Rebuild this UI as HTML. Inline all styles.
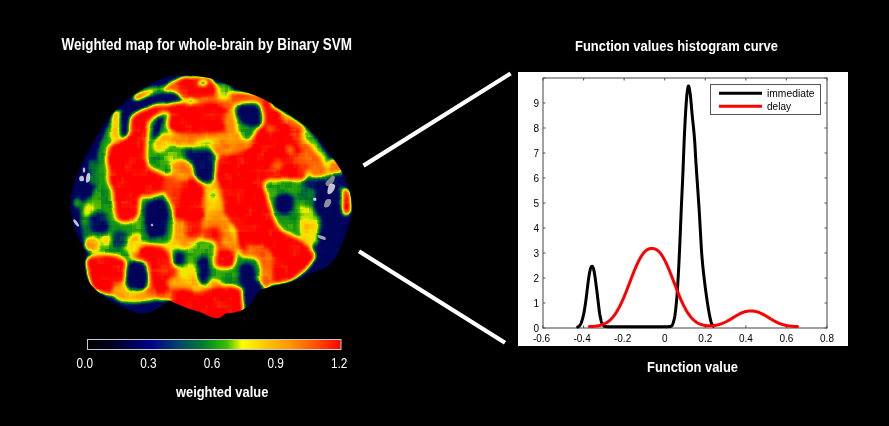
<!DOCTYPE html>
<html><head><meta charset="utf-8"><title>Weighted map and function values histogram</title>
<style>html,body{margin:0;padding:0;background:#000;width:889px;height:426px;overflow:hidden}svg{display:block}</style>
</head><body>
<svg width="889" height="426" viewBox="0 0 889 426">
<rect width="889" height="426" fill="#000"/>
<defs><linearGradient id="cbg" x1="0" y1="0" x2="1" y2="0"><stop offset="0" stop-color="rgb(0, 0, 0)"/><stop offset="0.1" stop-color="rgb(0, 0, 32)"/><stop offset="0.25" stop-color="rgb(0, 0, 140)"/><stop offset="0.37" stop-color="rgb(0, 75, 100)"/><stop offset="0.45" stop-color="rgb(0, 120, 50)"/><stop offset="0.5" stop-color="rgb(20, 160, 20)"/><stop offset="0.55" stop-color="rgb(60, 190, 0)"/><stop offset="0.61" stop-color="rgb(255, 255, 0)"/><stop offset="0.7" stop-color="rgb(255, 200, 0)"/><stop offset="0.8" stop-color="rgb(255, 150, 0)"/><stop offset="0.9" stop-color="rgb(255, 80, 0)"/><stop offset="1.0" stop-color="rgb(255, 0, 0)"/></linearGradient></defs>
<g font-family="Liberation Sans, Arial, sans-serif" font-weight="bold" fill="#fff">
<text x="61.5" y="49.8" font-size="16" textLength="290.5" lengthAdjust="spacingAndGlyphs">Weighted map for whole-brain by Binary SVM</text>
<text x="575" y="50.8" font-size="14.5" textLength="203" lengthAdjust="spacingAndGlyphs">Function values histogram curve</text>
<text x="647" y="372.4" font-size="15.5" textLength="91" lengthAdjust="spacingAndGlyphs">Function value</text>
<text x="176" y="397.4" font-size="15" textLength="92.3" lengthAdjust="spacingAndGlyphs">weighted value</text>
</g>
<defs>
<clipPath id="bc"><path d="M182.0,75.0 C188.6,74.6 194.0,75.6 200.0,76.5 C206.0,77.4 211.8,78.4 218.0,80.5 C224.2,82.6 229.8,86.1 237.0,89.0 C244.2,91.9 253.5,94.5 261.0,98.0 C268.5,101.5 275.3,105.9 282.0,110.0 C288.7,114.1 295.3,118.2 301.0,122.5 C306.7,126.8 311.5,131.2 316.0,136.0 C320.5,140.8 324.2,146.3 328.0,151.5 C331.8,156.7 336.0,162.2 339.0,167.0 C342.0,171.8 344.2,175.8 346.0,180.0 C347.8,184.2 349.0,187.7 350.0,192.0 C351.0,196.3 351.8,201.7 352.0,206.0 C352.2,210.3 351.8,213.7 351.0,218.0 C350.2,222.3 348.3,228.2 347.0,232.0 C345.7,235.8 344.4,237.7 343.0,241.0 C341.6,244.3 340.3,248.5 338.5,252.0 C336.7,255.5 334.4,259.2 332.0,262.0 C329.6,264.8 327.2,266.8 324.0,268.5 C320.8,270.2 316.7,270.9 313.0,272.5 C309.3,274.1 306.5,276.2 302.0,278.0 C297.5,279.8 291.7,281.9 286.0,283.5 C280.3,285.1 272.7,286.1 268.0,287.5 C263.3,288.9 260.7,289.6 258.0,292.0 C255.3,294.4 254.3,299.2 252.0,302.0 C249.7,304.8 246.8,307.3 244.0,309.0 C241.2,310.7 238.0,311.6 235.0,312.4 C232.0,313.1 228.7,312.6 226.0,313.5 C223.3,314.4 221.5,317.4 219.0,318.0 C216.5,318.6 214.0,317.9 211.0,317.0 C208.0,316.1 204.5,313.8 201.0,312.5 C197.5,311.2 194.2,310.5 190.0,309.0 C185.8,307.5 179.5,304.9 176.0,303.5 C172.5,302.1 171.2,300.2 169.0,300.5 C166.8,300.8 165.5,303.3 163.0,305.0 C160.5,306.7 157.0,309.2 154.0,310.6 C151.0,312.0 148.0,313.0 145.0,313.3 C142.0,313.6 140.5,313.8 136.0,312.4 C131.5,311.0 123.2,307.7 118.0,305.2 C112.8,302.7 108.7,300.0 105.0,297.5 C101.3,295.0 98.8,292.9 96.0,290.0 C93.2,287.1 89.9,284.0 88.0,280.0 C86.1,276.0 84.9,270.2 84.5,266.0 C84.1,261.8 85.6,257.8 85.5,255.0 C85.4,252.2 85.1,252.0 84.0,249.5 C82.9,247.0 80.8,244.1 79.0,240.0 C77.2,235.9 74.9,230.7 73.5,225.0 C72.1,219.3 70.8,212.2 70.6,206.0 C70.4,199.8 71.5,192.9 72.5,188.0 C73.5,183.1 74.6,180.9 76.3,176.4 C78.0,171.9 81.0,165.1 82.9,161.0 C84.8,156.9 85.2,156.2 87.6,152.0 C89.9,147.8 93.9,141.0 97.0,136.0 C100.1,131.0 103.2,126.0 106.0,122.0 C108.8,118.0 111.5,114.7 114.0,112.0 C116.5,109.3 117.8,108.5 121.0,105.7 C124.2,102.9 128.9,98.0 133.0,95.0 C137.1,92.0 140.8,90.1 145.4,87.4 C150.0,84.7 154.5,81.1 160.6,79.0 C166.7,76.9 175.4,75.4 182.0,75.0Z"/></clipPath>
<filter id="cm" x="0" y="0" width="889" height="426" filterUnits="userSpaceOnUse" color-interpolation-filters="sRGB">
<feGaussianBlur in="SourceGraphic" stdDeviation="2.2" result="b"/>
<feTurbulence type="fractalNoise" baseFrequency="0.09" numOctaves="2" seed="7" result="n"/>
<feColorMatrix in="n" type="matrix" values="1 0 0 0 0 1 0 0 0 0 1 0 0 0 0 0 0 0 0 1" result="ng0"/>
<feFlood x="2" y="2" width="1" height="1" flood-color="#fff" result="dot"/>
<feComposite in="dot" width="4" height="4" result="cell"/>
<feTile in="cell" result="grid"/>
<feComposite in="ng0" in2="grid" operator="in" result="sparse"/>
<feMorphology in="sparse" operator="dilate" radius="2" result="ng"/>
<feComposite in="b" in2="ng" operator="arithmetic" k1="0" k2="1" k3="0.2" k4="-0.1"/>
<feComponentTransfer><feFuncR type="table" tableValues="0.000 0.000 0.000 0.000 0.000 0.000 0.000 0.000 0.000 0.000 0.000 0.000 0.000 0.000 0.000 0.000 0.001 0.001 0.002 0.002 0.003 0.003 0.004 0.004 0.005 0.005 0.006 0.006 0.007 0.007 0.008 0.007 0.006 0.004 0.003 0.002 0.001 0.000 0.000 0.000 0.000 0.000 0.000 0.000 0.011 0.022 0.034 0.045 0.056 0.067 0.078 0.124 0.170 0.216 0.261 0.307 0.353 0.444 0.536 0.627 0.719 0.810 0.902 0.918 0.935 0.951 0.967 0.984 1.000 1.000 1.000 1.000 1.000 1.000 1.000 1.000 1.000 1.000 1.000 1.000 1.000 1.000 1.000 1.000 1.000 1.000 1.000 1.000 1.000 1.000 1.000 1.000 1.000 1.000 1.000 1.000 1.000 1.000 1.000 1.000 1.000"/><feFuncG type="table" tableValues="0.000 0.000 0.000 0.000 0.000 0.000 0.000 0.000 0.000 0.000 0.000 0.000 0.000 0.000 0.000 0.000 0.002 0.003 0.005 0.006 0.008 0.009 0.011 0.013 0.014 0.016 0.017 0.019 0.020 0.022 0.024 0.048 0.073 0.097 0.122 0.147 0.171 0.196 0.232 0.268 0.304 0.340 0.376 0.412 0.437 0.462 0.487 0.513 0.538 0.563 0.588 0.614 0.641 0.667 0.693 0.719 0.745 0.778 0.810 0.843 0.876 0.908 0.941 0.925 0.908 0.892 0.876 0.859 0.843 0.819 0.794 0.770 0.745 0.721 0.696 0.672 0.647 0.623 0.598 0.574 0.549 0.522 0.494 0.467 0.439 0.412 0.384 0.357 0.329 0.302 0.275 0.247 0.220 0.192 0.165 0.137 0.110 0.082 0.055 0.027 0.000"/><feFuncB type="table" tableValues="0.000 0.020 0.039 0.059 0.078 0.098 0.118 0.137 0.157 0.180 0.204 0.227 0.251 0.275 0.298 0.322 0.325 0.328 0.332 0.335 0.339 0.342 0.345 0.349 0.352 0.356 0.359 0.362 0.366 0.369 0.373 0.373 0.373 0.373 0.373 0.373 0.373 0.373 0.346 0.320 0.294 0.268 0.242 0.216 0.196 0.176 0.157 0.137 0.118 0.098 0.078 0.065 0.052 0.039 0.026 0.013 0.000 0.000 0.000 0.000 0.000 0.000 0.000 0.000 0.000 0.000 0.000 0.000 0.000 0.000 0.000 0.000 0.000 0.000 0.000 0.000 0.000 0.000 0.000 0.000 0.000 0.000 0.000 0.000 0.000 0.000 0.000 0.000 0.000 0.000 0.000 0.000 0.000 0.000 0.000 0.000 0.000 0.000 0.000 0.000 0.000"/></feComponentTransfer>
</filter>
</defs>
<g clip-path="url(#bc)"><g filter="url(#cm)">
<rect x="50" y="60" width="320" height="270" fill="#000"/>
<path d="M182.0,75.0 C188.6,74.6 194.0,75.6 200.0,76.5 C206.0,77.4 211.8,78.4 218.0,80.5 C224.2,82.6 229.8,86.1 237.0,89.0 C244.2,91.9 253.5,94.5 261.0,98.0 C268.5,101.5 275.3,105.9 282.0,110.0 C288.7,114.1 295.3,118.2 301.0,122.5 C306.7,126.8 311.5,131.2 316.0,136.0 C320.5,140.8 324.2,146.3 328.0,151.5 C331.8,156.7 336.0,162.2 339.0,167.0 C342.0,171.8 344.2,175.8 346.0,180.0 C347.8,184.2 349.0,187.7 350.0,192.0 C351.0,196.3 351.8,201.7 352.0,206.0 C352.2,210.3 351.8,213.7 351.0,218.0 C350.2,222.3 348.3,228.2 347.0,232.0 C345.7,235.8 344.4,237.7 343.0,241.0 C341.6,244.3 340.3,248.5 338.5,252.0 C336.7,255.5 334.4,259.2 332.0,262.0 C329.6,264.8 327.2,266.8 324.0,268.5 C320.8,270.2 316.7,270.9 313.0,272.5 C309.3,274.1 306.5,276.2 302.0,278.0 C297.5,279.8 291.7,281.9 286.0,283.5 C280.3,285.1 272.7,286.1 268.0,287.5 C263.3,288.9 260.7,289.6 258.0,292.0 C255.3,294.4 254.3,299.2 252.0,302.0 C249.7,304.8 246.8,307.3 244.0,309.0 C241.2,310.7 238.0,311.6 235.0,312.4 C232.0,313.1 228.7,312.6 226.0,313.5 C223.3,314.4 221.5,317.4 219.0,318.0 C216.5,318.6 214.0,317.9 211.0,317.0 C208.0,316.1 204.5,313.8 201.0,312.5 C197.5,311.2 194.2,310.5 190.0,309.0 C185.8,307.5 179.5,304.9 176.0,303.5 C172.5,302.1 171.2,300.2 169.0,300.5 C166.8,300.8 165.5,303.3 163.0,305.0 C160.5,306.7 157.0,309.2 154.0,310.6 C151.0,312.0 148.0,313.0 145.0,313.3 C142.0,313.6 140.5,313.8 136.0,312.4 C131.5,311.0 123.2,307.7 118.0,305.2 C112.8,302.7 108.7,300.0 105.0,297.5 C101.3,295.0 98.8,292.9 96.0,290.0 C93.2,287.1 89.9,284.0 88.0,280.0 C86.1,276.0 84.9,270.2 84.5,266.0 C84.1,261.8 85.6,257.8 85.5,255.0 C85.4,252.2 85.1,252.0 84.0,249.5 C82.9,247.0 80.8,244.1 79.0,240.0 C77.2,235.9 74.9,230.7 73.5,225.0 C72.1,219.3 70.8,212.2 70.6,206.0 C70.4,199.8 71.5,192.9 72.5,188.0 C73.5,183.1 74.6,180.9 76.3,176.4 C78.0,171.9 81.0,165.1 82.9,161.0 C84.8,156.9 85.2,156.2 87.6,152.0 C89.9,147.8 93.9,141.0 97.0,136.0 C100.1,131.0 103.2,126.0 106.0,122.0 C108.8,118.0 111.5,114.7 114.0,112.0 C116.5,109.3 117.8,108.5 121.0,105.7 C124.2,102.9 128.9,98.0 133.0,95.0 C137.1,92.0 140.8,90.1 145.4,87.4 C150.0,84.7 154.5,81.1 160.6,79.0 C166.7,76.9 175.4,75.4 182.0,75.0Z" fill="rgb(64,64,64)"/>
<path d="M160.0,87.0 C165.7,85.3 173.3,83.2 180.0,82.0 C186.7,80.8 193.7,79.7 200.0,80.0 C206.3,80.3 211.8,82.0 218.0,84.0 C224.2,86.0 230.0,89.2 237.0,92.0 C244.0,94.8 252.7,97.5 260.0,101.0 C267.3,104.5 274.5,109.0 281.0,113.0 C287.5,117.0 293.7,120.7 299.0,125.0 C304.3,129.3 308.8,134.3 313.0,139.0 C317.2,143.7 320.7,148.3 324.0,153.0 C327.3,157.7 331.0,162.8 333.0,167.0 C335.0,171.2 336.5,174.2 336.0,178.0 C335.5,181.8 331.7,185.5 330.0,190.0 C328.3,194.5 327.3,200.0 326.0,205.0 C324.7,210.0 323.3,215.0 322.0,220.0 C320.7,225.0 319.7,229.7 318.0,235.0 C316.3,240.3 314.7,246.5 312.0,252.0 C309.3,257.5 306.0,263.5 302.0,268.0 C298.0,272.5 293.7,276.3 288.0,279.0 C282.3,281.7 274.0,283.2 268.0,284.0 C262.0,284.8 255.7,282.0 252.0,284.0 C248.3,286.0 248.7,292.0 246.0,296.0 C243.3,300.0 240.3,305.3 236.0,308.0 C231.7,310.7 226.0,312.3 220.0,312.0 C214.0,311.7 207.0,308.3 200.0,306.0 C193.0,303.7 184.7,299.5 178.0,298.0 C171.3,296.5 164.7,297.7 160.0,297.0 C155.3,296.3 156.7,294.2 150.0,294.0 C143.3,293.8 127.7,296.7 120.0,296.0 C112.3,295.3 108.5,292.7 104.0,290.0 C99.5,287.3 95.3,284.2 93.0,280.0 C90.7,275.8 90.5,269.3 90.0,265.0 C89.5,260.7 90.7,257.5 90.0,254.0 C89.3,250.5 87.3,248.0 86.0,244.0 C84.7,240.0 83.0,235.3 82.0,230.0 C81.0,224.7 79.3,217.0 80.0,212.0 C80.7,207.0 83.5,203.7 86.0,200.0 C88.5,196.3 93.2,195.0 95.0,190.0 C96.8,185.0 96.5,176.7 97.0,170.0 C97.5,163.3 96.8,156.0 98.0,150.0 C99.2,144.0 101.7,139.0 104.0,134.0 C106.3,129.0 109.0,124.0 112.0,120.0 C115.0,116.0 118.3,113.3 122.0,110.0 C125.7,106.7 130.0,103.0 134.0,100.0 C138.0,97.0 141.7,94.2 146.0,92.0 C150.3,89.8 154.3,88.7 160.0,87.0Z" fill="rgb(128,128,128)"/>
<path d="M97.0,172.0 C97.0,174.7 96.6,178.0 96.0,180.2 C95.5,182.4 94.5,184.5 93.5,185.3 C92.6,186.2 91.4,186.2 90.5,185.3 C89.5,184.5 88.5,182.4 88.0,180.2 C87.4,178.0 87.0,174.7 87.0,172.0 C87.0,169.3 87.4,166.0 88.0,163.8 C88.5,161.6 89.5,159.5 90.5,158.7 C91.4,157.8 92.6,157.8 93.5,158.7 C94.5,159.5 95.5,161.6 96.0,163.8 C96.6,166.0 97.0,169.3 97.0,172.0Z" fill="rgb(107,107,107)"/>
<path d="M91.0,232.0 C91.0,233.6 90.6,235.4 90.0,236.7 C89.5,238.0 88.5,239.1 87.5,239.6 C86.6,240.1 85.4,240.1 84.5,239.6 C83.5,239.1 82.5,238.0 82.0,236.7 C81.4,235.4 81.0,233.6 81.0,232.0 C81.0,230.4 81.4,228.6 82.0,227.3 C82.5,226.0 83.5,224.9 84.5,224.4 C85.4,223.9 86.6,223.9 87.5,224.4 C88.5,224.9 89.5,226.0 90.0,227.3 C90.6,228.6 91.0,230.4 91.0,232.0Z" fill="rgb(115,115,115)"/>
<path d="M82.0,203.0 C82.0,204.0 81.6,205.1 81.0,205.9 C80.5,206.7 79.5,207.5 78.5,207.8 C77.6,208.1 76.4,208.1 75.5,207.8 C74.5,207.5 73.5,206.7 73.0,205.9 C72.4,205.1 72.0,204.0 72.0,203.0 C72.0,202.0 72.4,200.9 73.0,200.1 C73.5,199.3 74.5,198.5 75.5,198.2 C76.4,197.9 77.6,197.9 78.5,198.2 C79.5,198.5 80.5,199.3 81.0,200.1 C81.6,200.9 82.0,202.0 82.0,203.0Z" fill="rgb(133,133,133)"/>
<path d="M142.0,88.0 C147.0,86.2 165.0,85.2 170.0,86.0 C175.0,86.8 175.3,91.2 172.0,93.0 C168.7,94.8 155.3,96.3 150.0,97.0 C144.7,97.7 141.3,98.5 140.0,97.0 C138.7,95.5 137.0,89.8 142.0,88.0Z" fill="rgb(143,143,143)"/>
<path d="M135.0,94.0 C137.7,92.7 149.0,92.2 152.0,93.0 C155.0,93.8 155.7,97.7 153.0,99.0 C150.3,100.3 139.0,101.8 136.0,101.0 C133.0,100.2 132.3,95.3 135.0,94.0Z" fill="rgb(224,224,224)"/>
<path d="M167.0,87.0 C170.0,86.0 182.0,86.0 185.0,87.0 C188.0,88.0 188.0,92.0 185.0,93.0 C182.0,94.0 170.0,94.0 167.0,93.0 C164.0,92.0 164.0,88.0 167.0,87.0Z" fill="rgb(204,204,204)"/>
<path d="M112.0,113.0 C113.7,108.5 120.3,109.0 122.0,113.0 C123.7,117.0 123.7,132.5 122.0,137.0 C120.3,141.5 113.7,144.0 112.0,140.0 C110.3,136.0 110.3,117.5 112.0,113.0Z" fill="rgb(184,184,184)"/>
<path d="M166.0,86.0 C167.7,83.2 175.0,79.7 178.0,79.0 C181.0,78.3 183.0,79.0 184.0,82.0 C185.0,85.0 186.7,94.7 184.0,97.0 C181.3,99.3 171.0,97.8 168.0,96.0 C165.0,94.2 164.3,88.8 166.0,86.0Z" fill="rgb(219,219,219)"/>
<path d="M180.0,78.0 C181.8,76.1 185.3,76.8 190.0,76.5 C194.7,76.2 204.2,75.8 208.0,76.5 C211.8,77.2 211.3,78.2 213.0,80.5 C214.7,82.8 217.3,87.2 218.0,90.0 C218.7,92.8 219.2,95.7 217.0,97.4 C214.8,99.1 209.5,99.7 205.0,100.0 C200.5,100.3 194.0,99.5 190.0,99.0 C186.0,98.5 182.8,98.8 181.0,97.0 C179.2,95.2 179.2,91.2 179.0,88.0 C178.8,84.8 178.2,79.9 180.0,78.0Z" fill="rgb(255,255,255)"/>
<path d="M204.0,97.0 C209.3,95.7 230.7,95.5 236.0,98.0 C241.3,100.5 237.7,109.5 236.0,112.0 C234.3,114.5 231.3,114.0 226.0,113.0 C220.7,112.0 207.7,108.7 204.0,106.0 C200.3,103.3 198.7,98.3 204.0,97.0Z" fill="rgb(217,217,217)"/>
<path d="M170.0,104.0 C174.5,101.2 187.5,103.2 195.0,103.0 C202.5,102.8 209.8,101.8 215.0,103.0 C220.2,104.2 224.5,106.8 226.5,110.0 C228.5,113.2 226.8,118.3 227.0,122.0 C227.2,125.7 230.8,129.8 228.0,132.0 C225.2,134.2 216.3,134.7 210.0,135.0 C203.7,135.3 196.3,134.5 190.0,134.0 C183.7,133.5 175.7,134.3 172.0,132.0 C168.3,129.7 168.3,124.7 168.0,120.0 C167.7,115.3 165.5,106.8 170.0,104.0Z" fill="rgb(255,255,255)"/>
<path d="M218.0,83.0 C220.2,80.7 228.8,81.5 231.0,84.0 C233.2,86.5 233.2,95.7 231.0,98.0 C228.8,100.3 220.2,100.5 218.0,98.0 C215.8,95.5 215.8,85.3 218.0,83.0Z" fill="rgb(145,145,145)"/>
<path d="M233.0,92.0 C238.7,90.7 261.2,93.2 267.0,95.0 C272.8,96.8 273.7,101.7 268.0,103.0 C262.3,104.3 238.8,104.8 233.0,103.0 C227.2,101.2 227.3,93.3 233.0,92.0Z" fill="rgb(224,224,224)"/>
<path d="M264.0,100.0 C265.3,94.7 270.7,94.7 272.0,100.0 C273.3,105.3 273.3,126.7 272.0,132.0 C270.7,137.3 265.3,137.3 264.0,132.0 C262.7,126.7 262.7,105.3 264.0,100.0Z" fill="rgb(255,255,255)"/>
<path d="M226.0,114.0 C227.7,111.0 234.3,111.0 236.0,114.0 C237.7,117.0 237.7,129.0 236.0,132.0 C234.3,135.0 227.7,135.0 226.0,132.0 C224.3,129.0 224.3,117.0 226.0,114.0Z" fill="rgb(199,199,199)"/>
<path d="M132.0,112.0 C134.8,108.2 142.5,109.7 146.5,108.5 C150.5,107.3 152.4,105.7 156.0,105.0 C159.6,104.3 164.0,104.7 168.0,104.5 C172.0,104.3 177.7,102.8 180.0,104.0 C182.3,105.2 183.3,110.7 182.0,112.0 C180.7,113.3 174.7,112.0 172.0,112.0 C169.3,112.0 168.0,111.7 166.0,112.0 C164.0,112.3 162.3,113.0 160.0,114.0 C157.7,115.0 154.0,116.2 152.0,118.0 C150.0,119.8 148.8,122.2 148.0,125.0 C147.2,127.8 147.3,129.5 147.0,135.0 C146.7,140.5 145.2,152.3 146.0,158.0 C146.8,163.7 148.3,166.0 151.5,169.0 C154.7,172.0 162.6,172.5 165.0,176.0 C167.4,179.5 168.5,186.7 166.0,190.0 C163.5,193.3 154.3,194.7 150.0,196.0 C145.7,197.3 141.8,195.3 140.0,198.0 C138.2,200.7 140.3,208.2 139.0,212.0 C137.7,215.8 135.5,219.7 132.0,221.0 C128.5,222.3 121.0,222.7 118.0,220.0 C115.0,217.3 114.8,209.7 114.0,205.0 C113.2,200.3 113.8,195.8 113.0,192.0 C112.2,188.2 109.8,185.8 109.0,182.0 C108.2,178.2 108.3,173.3 108.0,169.0 C107.7,164.7 106.7,159.8 107.0,156.0 C107.3,152.2 107.0,149.0 110.0,146.0 C113.0,143.0 121.7,140.5 125.0,138.0 C128.3,135.5 128.8,135.3 130.0,131.0 C131.2,126.7 129.2,115.8 132.0,112.0Z" fill="rgb(255,255,255)"/>
<path d="M161.0,135.0 C167.5,133.5 187.5,134.5 200.0,134.0 C212.5,133.5 229.7,130.7 236.0,132.0 C242.3,133.3 241.5,139.7 238.0,142.0 C234.5,144.3 223.8,145.3 215.0,146.0 C206.2,146.7 194.0,146.5 185.0,146.0 C176.0,145.5 165.0,144.8 161.0,143.0 C157.0,141.2 154.5,136.5 161.0,135.0Z" fill="rgb(204,204,204)"/>
<path d="M197.0,141.0 C201.7,139.5 220.3,139.5 225.0,141.0 C229.7,142.5 229.7,148.5 225.0,150.0 C220.3,151.5 201.7,151.5 197.0,150.0 C192.3,148.5 192.3,142.5 197.0,141.0Z" fill="rgb(153,153,153)"/>
<path d="M154.0,140.0 C155.8,138.2 163.2,138.2 165.0,140.0 C166.8,141.8 166.8,149.2 165.0,151.0 C163.2,152.8 155.8,152.8 154.0,151.0 C152.2,149.2 152.2,141.8 154.0,140.0Z" fill="rgb(163,163,163)"/>
<path d="M156.0,139.0 C158.0,137.2 166.0,137.2 168.0,139.0 C170.0,140.8 170.0,148.2 168.0,150.0 C166.0,151.8 158.0,151.8 156.0,150.0 C154.0,148.2 154.0,140.8 156.0,139.0Z" fill="rgb(173,173,173)"/>
<path d="M262.0,103.0 C265.3,102.7 274.0,106.5 280.0,110.0 C286.0,113.5 293.7,119.0 298.0,124.0 C302.3,129.0 304.7,134.0 306.0,140.0 C307.3,146.0 307.0,154.7 306.0,160.0 C305.0,165.3 300.0,169.0 300.0,172.0 C300.0,175.0 304.7,174.5 306.0,178.0 C307.3,181.5 310.3,190.0 308.0,193.0 C305.7,196.0 297.5,196.5 292.0,196.0 C286.5,195.5 279.0,189.3 275.0,190.0 C271.0,190.7 267.6,196.4 268.0,200.0 C268.4,203.6 275.7,206.6 277.6,211.3 C279.5,216.0 276.4,223.8 279.5,228.2 C282.6,232.6 291.1,234.1 296.4,237.6 C301.7,241.1 308.3,245.8 311.4,248.9 C314.5,252.0 315.5,253.6 315.2,256.4 C314.9,259.2 312.0,262.7 309.5,265.8 C307.0,268.9 303.6,272.5 300.0,275.2 C296.4,277.9 293.3,280.4 288.0,282.0 C282.7,283.6 273.5,285.3 268.0,285.0 C262.5,284.7 258.8,283.8 255.0,280.0 C251.2,276.2 247.7,267.4 245.0,262.0 C242.3,256.6 240.7,253.1 239.0,247.6 C237.3,242.1 237.9,235.1 235.0,228.8 C232.1,222.5 223.7,215.4 221.4,210.0 C219.1,204.6 222.3,201.8 221.4,196.4 C220.5,191.0 216.4,183.9 215.8,177.6 C215.2,171.3 216.2,163.1 217.7,158.8 C219.2,154.5 221.3,153.8 225.0,152.0 C228.7,150.2 235.8,150.0 240.0,148.0 C244.2,146.0 247.0,143.3 250.0,140.0 C253.0,136.7 256.3,132.7 258.0,128.0 C259.7,123.3 259.3,116.2 260.0,112.0 C260.7,107.8 258.7,103.3 262.0,103.0Z" fill="rgb(255,255,255)"/>
<path d="M216.0,140.0 C221.7,137.5 244.7,138.3 250.0,140.0 C255.3,141.7 253.7,147.5 248.0,150.0 C242.3,152.5 221.3,156.7 216.0,155.0 C210.7,153.3 210.3,142.5 216.0,140.0Z" fill="rgb(204,204,204)"/>
<path d="M280.0,110.0 C282.5,110.0 294.0,117.3 300.0,122.0 C306.0,126.7 312.3,133.3 316.0,138.0 C319.7,142.7 322.3,148.0 322.0,150.0 C321.7,152.0 317.7,152.5 314.0,150.0 C310.3,147.5 304.8,139.7 300.0,135.0 C295.2,130.3 288.3,126.2 285.0,122.0 C281.7,117.8 277.5,110.0 280.0,110.0Z" fill="rgb(209,209,209)"/>
<path d="M295.0,150.0 C295.0,151.0 294.6,152.1 294.0,152.9 C293.5,153.7 292.5,154.5 291.5,154.8 C290.6,155.1 289.4,155.1 288.5,154.8 C287.5,154.5 286.5,153.7 286.0,152.9 C285.4,152.1 285.0,151.0 285.0,150.0 C285.0,149.0 285.4,147.9 286.0,147.1 C286.5,146.3 287.5,145.5 288.5,145.2 C289.4,144.9 290.6,144.9 291.5,145.2 C292.5,145.5 293.5,146.3 294.0,147.1 C294.6,147.9 295.0,149.0 295.0,150.0Z" fill="rgb(217,217,217)"/>
<path d="M284.0,165.0 C284.0,166.0 283.5,167.1 282.9,167.9 C282.2,168.7 281.0,169.5 279.9,169.8 C278.7,170.1 277.3,170.1 276.1,169.8 C275.0,169.5 273.8,168.7 273.1,167.9 C272.5,167.1 272.0,166.0 272.0,165.0 C272.0,164.0 272.5,162.9 273.1,162.1 C273.8,161.3 275.0,160.5 276.1,160.2 C277.3,159.9 278.7,159.9 279.9,160.2 C281.0,160.5 282.2,161.3 282.9,162.1 C283.5,162.9 284.0,164.0 284.0,165.0Z" fill="rgb(217,217,217)"/>
<path d="M304.0,158.0 C304.0,159.2 303.7,160.6 303.2,161.5 C302.8,162.5 302.0,163.3 301.2,163.7 C300.5,164.1 299.5,164.1 298.8,163.7 C298.0,163.3 297.2,162.5 296.8,161.5 C296.3,160.6 296.0,159.2 296.0,158.0 C296.0,156.8 296.3,155.4 296.8,154.5 C297.2,153.5 298.0,152.7 298.8,152.3 C299.5,151.9 300.5,151.9 301.2,152.3 C302.0,152.7 302.8,153.5 303.2,154.5 C303.7,155.4 304.0,156.8 304.0,158.0Z" fill="rgb(224,224,224)"/>
<path d="M274.0,128.0 C274.0,128.8 273.7,129.7 273.2,130.4 C272.8,131.0 272.0,131.6 271.2,131.8 C270.5,132.0 269.5,132.0 268.8,131.8 C268.0,131.6 267.2,131.0 266.8,130.4 C266.3,129.7 266.0,128.8 266.0,128.0 C266.0,127.2 266.3,126.3 266.8,125.6 C267.2,125.0 268.0,124.4 268.8,124.2 C269.5,124.0 270.5,124.0 271.2,124.2 C272.0,124.4 272.8,125.0 273.2,125.6 C273.7,126.3 274.0,127.2 274.0,128.0Z" fill="rgb(209,209,209)"/>
<path d="M296.0,126.0 C297.0,123.7 302.8,132.3 306.0,136.0 C309.2,139.7 312.3,144.0 315.0,148.0 C317.7,152.0 321.2,156.7 322.0,160.0 C322.8,163.3 322.7,166.3 320.0,168.0 C317.3,169.7 309.3,173.0 306.0,170.0 C302.7,167.0 301.7,157.3 300.0,150.0 C298.3,142.7 295.0,128.3 296.0,126.0Z" fill="rgb(219,219,219)"/>
<path d="M303.0,128.0 C304.3,127.3 308.8,131.0 312.0,134.0 C315.2,137.0 319.3,142.2 322.0,146.0 C324.7,149.8 327.7,154.7 328.0,157.0 C328.3,159.3 326.3,161.2 324.0,160.0 C321.7,158.8 317.3,153.7 314.0,150.0 C310.7,146.3 305.8,141.7 304.0,138.0 C302.2,134.3 301.7,128.7 303.0,128.0Z" fill="rgb(148,148,148)"/>
<path d="M301.0,135.0 C301.0,136.2 300.6,137.6 300.0,138.5 C299.5,139.5 298.5,140.3 297.5,140.7 C296.6,141.1 295.4,141.1 294.5,140.7 C293.5,140.3 292.5,139.5 292.0,138.5 C291.4,137.6 291.0,136.2 291.0,135.0 C291.0,133.8 291.4,132.4 292.0,131.5 C292.5,130.5 293.5,129.7 294.5,129.3 C295.4,128.9 296.6,128.9 297.5,129.3 C298.5,129.7 299.5,130.5 300.0,131.5 C300.6,132.4 301.0,133.8 301.0,135.0Z" fill="rgb(242,242,242)"/>
<path d="M343.0,190.0 C344.2,186.7 348.7,189.3 350.0,193.0 C351.3,196.7 352.2,208.7 351.0,212.0 C349.8,215.3 344.3,216.7 343.0,213.0 C341.7,209.3 341.8,193.3 343.0,190.0Z" fill="rgb(255,255,255)"/>
<path d="M330.0,160.0 C332.0,157.2 340.0,157.2 342.0,160.0 C344.0,162.8 344.0,174.2 342.0,177.0 C340.0,179.8 332.0,179.8 330.0,177.0 C328.0,174.2 328.0,162.8 330.0,160.0Z" fill="rgb(204,204,204)"/>
<path d="M300.0,160.0 C301.0,155.8 305.0,155.8 306.0,160.0 C307.0,164.2 307.0,180.8 306.0,185.0 C305.0,189.2 301.0,189.2 300.0,185.0 C299.0,180.8 299.0,164.2 300.0,160.0Z" fill="rgb(230,230,230)"/>
<path d="M204.0,180.0 C206.2,173.7 213.0,175.0 216.0,178.0 C219.0,181.0 221.0,192.0 222.0,198.0 C223.0,204.0 225.2,211.0 222.0,214.0 C218.8,217.0 206.0,221.7 203.0,216.0 C200.0,210.3 201.8,186.3 204.0,180.0Z" fill="rgb(178,178,178)"/>
<path d="M216.0,196.0 C216.0,196.8 215.6,197.9 215.0,198.5 C214.4,199.1 213.3,199.5 212.5,199.5 C211.7,199.5 210.6,199.1 210.0,198.5 C209.4,197.9 209.0,196.8 209.0,196.0 C209.0,195.2 209.4,194.1 210.0,193.5 C210.6,192.9 211.7,192.5 212.5,192.5 C213.3,192.5 214.4,192.9 215.0,193.5 C215.6,194.1 216.0,195.2 216.0,196.0Z" fill="rgb(133,133,133)"/>
<path d="M217.5,222.0 C217.5,222.6 217.2,223.4 216.8,223.8 C216.4,224.2 215.6,224.5 215.0,224.5 C214.4,224.5 213.6,224.2 213.2,223.8 C212.8,223.4 212.5,222.6 212.5,222.0 C212.5,221.4 212.8,220.6 213.2,220.2 C213.6,219.8 214.4,219.5 215.0,219.5 C215.6,219.5 216.4,219.8 216.8,220.2 C217.2,220.6 217.5,221.4 217.5,222.0Z" fill="rgb(140,140,140)"/>
<path d="M170.0,180.0 C175.0,174.0 194.3,174.7 200.0,178.0 C205.7,181.3 203.5,192.7 204.0,200.0 C204.5,207.3 206.2,217.7 203.0,222.0 C199.8,226.3 190.5,227.3 185.0,226.0 C179.5,224.7 172.5,221.7 170.0,214.0 C167.5,206.3 165.0,186.0 170.0,180.0Z" fill="rgb(255,255,255)"/>
<path d="M165.0,176.0 C167.3,173.0 177.5,174.0 180.0,178.0 C182.5,182.0 182.3,197.0 180.0,200.0 C177.7,203.0 168.5,200.0 166.0,196.0 C163.5,192.0 162.7,179.0 165.0,176.0Z" fill="rgb(230,230,230)"/>
<path d="M171.0,222.0 C176.3,218.2 193.8,223.3 200.0,222.0 C206.2,220.7 204.3,215.7 208.0,214.0 C211.7,212.3 217.5,208.0 222.0,212.0 C226.5,216.0 232.7,230.7 235.0,238.0 C237.3,245.3 240.2,252.7 236.0,256.0 C231.8,259.3 219.3,257.7 210.0,258.0 C200.7,258.3 187.0,260.2 180.0,258.0 C173.0,255.8 169.5,251.0 168.0,245.0 C166.5,239.0 165.7,225.8 171.0,222.0Z" fill="rgb(204,204,204)"/>
<path d="M186.0,221.0 C188.5,218.5 198.5,218.5 201.0,221.0 C203.5,223.5 203.5,233.5 201.0,236.0 C198.5,238.5 188.5,238.5 186.0,236.0 C183.5,233.5 183.5,223.5 186.0,221.0Z" fill="rgb(242,242,242)"/>
<path d="M205.0,229.0 C207.5,226.0 217.5,226.0 220.0,229.0 C222.5,232.0 222.5,244.0 220.0,247.0 C217.5,250.0 207.5,250.0 205.0,247.0 C202.5,244.0 202.5,232.0 205.0,229.0Z" fill="rgb(242,242,242)"/>
<path d="M216.0,251.0 C218.8,248.5 230.2,248.5 233.0,251.0 C235.8,253.5 235.8,263.5 233.0,266.0 C230.2,268.5 218.8,268.5 216.0,266.0 C213.2,263.5 213.2,253.5 216.0,251.0Z" fill="rgb(255,255,255)"/>
<path d="M84.0,205.0 C85.5,203.2 91.5,203.2 93.0,205.0 C94.5,206.8 94.5,214.2 93.0,216.0 C91.5,217.8 85.5,217.8 84.0,216.0 C82.5,214.2 82.5,206.8 84.0,205.0Z" fill="rgb(163,163,163)"/>
<path d="M101.0,235.0 C102.5,233.5 108.5,233.5 110.0,235.0 C111.5,236.5 111.5,242.5 110.0,244.0 C108.5,245.5 102.5,245.5 101.0,244.0 C99.5,242.5 99.5,236.5 101.0,235.0Z" fill="rgb(163,163,163)"/>
<path d="M86.0,239.0 C87.8,237.2 95.2,237.2 97.0,239.0 C98.8,240.8 98.8,248.2 97.0,250.0 C95.2,251.8 87.8,251.8 86.0,250.0 C84.2,248.2 84.2,240.8 86.0,239.0Z" fill="rgb(204,204,204)"/>
<path d="M87.5,258.0 C91.2,254.7 103.8,254.3 110.0,255.0 C116.2,255.7 122.5,257.8 125.0,262.0 C127.5,266.2 126.3,274.7 125.0,280.0 C123.7,285.3 120.7,291.7 117.0,294.0 C113.3,296.3 107.2,295.0 103.0,294.0 C98.8,293.0 94.6,291.2 92.0,288.0 C89.4,284.8 88.2,280.0 87.5,275.0 C86.8,270.0 83.8,261.3 87.5,258.0Z" fill="rgb(255,255,255)"/>
<path d="M116.0,284.0 C121.7,281.2 145.7,281.3 152.0,284.0 C158.3,286.7 159.7,297.2 154.0,300.0 C148.3,302.8 124.3,303.7 118.0,301.0 C111.7,298.3 110.3,286.8 116.0,284.0Z" fill="rgb(189,189,189)"/>
<path d="M128.0,238.0 C134.7,234.0 166.0,230.7 175.0,238.0 C184.0,245.3 182.0,272.0 182.0,282.0 C182.0,292.0 180.3,295.7 175.0,298.0 C169.7,300.3 156.7,302.0 150.0,296.0 C143.3,290.0 138.7,271.7 135.0,262.0 C131.3,252.3 121.3,242.0 128.0,238.0Z" fill="rgb(219,219,219)"/>
<path d="M128.0,238.0 C135.8,235.7 167.2,235.7 175.0,238.0 C182.8,240.3 182.8,249.7 175.0,252.0 C167.2,254.3 135.8,254.3 128.0,252.0 C120.2,249.7 120.2,240.3 128.0,238.0Z" fill="rgb(173,173,173)"/>
<path d="M140.0,248.0 C143.3,244.3 154.8,244.3 160.0,246.0 C165.2,247.7 169.2,250.7 171.0,258.0 C172.8,265.3 173.7,284.3 171.0,290.0 C168.3,295.7 158.5,294.5 155.0,292.0 C151.5,289.5 152.5,279.0 150.0,275.0 C147.5,271.0 141.7,272.5 140.0,268.0 C138.3,263.5 136.7,251.7 140.0,248.0Z" fill="rgb(255,255,255)"/>
<path d="M178.0,286.0 C182.7,284.5 190.8,291.0 198.0,291.0 C205.2,291.0 213.8,286.5 221.0,286.0 C228.2,285.5 237.2,285.7 241.0,288.0 C244.8,290.3 243.8,295.0 244.0,300.0 C244.2,305.0 243.7,314.7 242.0,318.0 C240.3,321.3 237.8,319.0 234.0,320.0 C230.2,321.0 224.5,324.0 219.0,324.0 C213.5,324.0 206.2,321.3 201.0,320.0 C195.8,318.7 192.8,317.7 188.0,316.0 C183.2,314.3 175.0,312.7 172.0,310.0 C169.0,307.3 169.0,304.0 170.0,300.0 C171.0,296.0 173.3,287.5 178.0,286.0Z" fill="rgb(255,255,255)"/>
<path d="M245.0,250.0 C249.2,243.8 265.8,243.8 270.0,250.0 C274.2,256.2 274.2,280.8 270.0,287.0 C265.8,293.2 249.2,293.2 245.0,287.0 C240.8,280.8 240.8,256.2 245.0,250.0Z" fill="rgb(217,217,217)"/>
<path d="M289.0,178.0 C291.8,175.3 303.2,175.3 306.0,178.0 C308.8,180.7 308.8,191.3 306.0,194.0 C303.2,196.7 291.8,196.7 289.0,194.0 C286.2,191.3 286.2,180.7 289.0,178.0Z" fill="rgb(255,255,255)"/>
<path d="M160.0,258.0 C161.8,255.7 169.2,255.7 171.0,258.0 C172.8,260.3 172.8,269.7 171.0,272.0 C169.2,274.3 161.8,274.3 160.0,272.0 C158.2,269.7 158.2,260.3 160.0,258.0Z" fill="rgb(242,242,242)"/>
<path d="M172.0,250.0 C174.3,247.7 181.3,249.7 186.0,248.0 C190.7,246.3 195.2,240.8 200.0,240.0 C204.8,239.2 212.5,239.3 215.0,243.0 C217.5,246.7 215.5,255.5 215.0,262.0 C214.5,268.5 215.2,278.2 212.0,282.0 C208.8,285.8 199.7,287.0 196.0,285.0 C192.3,283.0 193.0,272.8 190.0,270.0 C187.0,267.2 181.0,269.3 178.0,268.0 C175.0,266.7 173.0,265.0 172.0,262.0 C171.0,259.0 169.7,252.3 172.0,250.0Z" fill="rgb(133,133,133)"/>
<path d="M180.0,265.0 C182.7,262.5 193.3,262.5 196.0,265.0 C198.7,267.5 198.7,277.5 196.0,280.0 C193.3,282.5 182.7,282.5 180.0,280.0 C177.3,277.5 177.3,267.5 180.0,265.0Z" fill="rgb(158,158,158)"/>
<path d="M172.0,278.0 C179.3,276.7 208.7,278.3 216.0,280.0 C223.3,281.7 223.3,286.7 216.0,288.0 C208.7,289.3 179.3,289.7 172.0,288.0 C164.7,286.3 164.7,279.3 172.0,278.0Z" fill="rgb(191,191,191)"/>
<path d="M124.0,108.0 C125.2,106.2 125.5,104.4 128.0,103.0 C130.5,101.6 135.0,101.0 139.0,99.6 C143.0,98.2 148.7,95.9 152.0,94.7 C155.3,93.5 155.5,93.0 159.0,92.6 C162.5,92.1 169.7,91.4 173.0,92.0 C176.3,92.6 177.5,94.6 179.0,96.0 C180.5,97.4 182.0,99.3 182.0,100.4 C182.0,101.5 181.4,102.0 179.0,102.5 C176.6,103.0 171.4,103.0 167.6,103.2 C163.8,103.5 159.5,103.3 156.0,104.0 C152.5,104.7 149.5,106.1 146.5,107.4 C143.5,108.7 140.4,110.2 138.0,111.6 C135.6,113.0 133.5,114.3 132.0,116.0 C130.5,117.7 129.7,119.7 129.0,122.0 C128.3,124.3 128.5,127.7 128.0,130.0 C127.5,132.3 127.2,135.0 126.0,136.0 C124.8,137.0 122.0,137.8 121.0,136.0 C120.0,134.2 120.0,128.7 120.0,125.0 C120.0,121.3 120.3,116.8 121.0,114.0 C121.7,111.2 122.8,109.8 124.0,108.0Z" fill="rgb(64,64,64)"/>
<path d="M160.0,114.0 C162.8,111.8 165.3,111.7 167.0,112.0 C168.7,112.3 170.3,113.8 170.0,116.0 C169.7,118.2 166.7,121.5 165.0,125.0 C163.3,128.5 162.8,134.7 160.0,137.0 C157.2,139.3 149.7,141.0 148.0,139.0 C146.3,137.0 148.0,129.2 150.0,125.0 C152.0,120.8 157.2,116.2 160.0,114.0Z" fill="rgb(128,128,128)"/>
<path d="M157.0,120.0 C158.5,118.3 162.5,116.7 163.0,118.0 C163.5,119.3 161.0,124.8 160.0,128.0 C159.0,131.2 158.3,135.2 157.0,137.0 C155.7,138.8 152.5,140.5 152.0,139.0 C151.5,137.5 153.2,131.2 154.0,128.0 C154.8,124.8 155.5,121.7 157.0,120.0Z" fill="rgb(64,64,64)"/>
<path d="M200.0,81.0 C201.0,80.3 205.0,80.3 206.0,81.0 C207.0,81.7 207.0,84.3 206.0,85.0 C205.0,85.7 201.0,85.7 200.0,85.0 C199.0,84.3 199.0,81.7 200.0,81.0Z" fill="rgb(76,76,76)"/>
<path d="M194.5,101.5 C194.5,102.0 194.1,102.6 193.5,102.9 C192.9,103.2 191.8,103.5 191.0,103.5 C190.2,103.5 189.1,103.2 188.5,102.9 C187.9,102.6 187.5,102.0 187.5,101.5 C187.5,101.0 187.9,100.4 188.5,100.1 C189.1,99.8 190.2,99.5 191.0,99.5 C191.8,99.5 192.9,99.8 193.5,100.1 C194.1,100.4 194.5,101.0 194.5,101.5Z" fill="rgb(76,76,76)"/>
<path d="M235.0,105.0 C239.0,102.8 254.2,100.3 259.0,103.0 C263.8,105.7 264.2,116.7 264.0,121.0 C263.8,125.3 261.7,128.0 258.0,129.0 C254.3,130.0 245.8,129.2 242.0,127.0 C238.2,124.8 236.2,119.7 235.0,116.0 C233.8,112.3 231.0,107.2 235.0,105.0Z" fill="rgb(128,128,128)"/>
<path d="M240.0,107.0 C243.2,105.4 253.5,103.2 257.0,105.5 C260.5,107.8 261.2,117.6 261.0,121.0 C260.8,124.4 258.8,125.5 256.0,126.0 C253.2,126.5 247.0,125.8 244.0,124.0 C241.0,122.2 238.7,117.8 238.0,115.0 C237.3,112.2 236.8,108.6 240.0,107.0Z" fill="rgb(64,64,64)"/>
<path d="M182.0,151.0 C186.7,149.5 206.8,146.0 212.0,151.0 C217.2,156.0 215.5,176.2 213.0,181.0 C210.5,185.8 200.5,183.0 197.0,180.0 C193.5,177.0 194.2,166.3 192.0,163.0 C189.8,159.7 185.7,162.0 184.0,160.0 C182.3,158.0 177.3,152.5 182.0,151.0Z" fill="rgb(76,76,76)"/>
<path d="M168.0,152.0 C169.7,150.3 179.2,148.7 182.0,150.0 C184.8,151.3 186.7,158.3 185.0,160.0 C183.3,161.7 174.8,161.3 172.0,160.0 C169.2,158.7 166.3,153.7 168.0,152.0Z" fill="rgb(115,115,115)"/>
<path d="M165.0,150.0 C167.0,147.0 178.8,146.0 182.0,148.0 C185.2,150.0 186.0,159.0 184.0,162.0 C182.0,165.0 173.2,168.0 170.0,166.0 C166.8,164.0 163.0,153.0 165.0,150.0Z" fill="rgb(140,140,140)"/>
<path d="M172.0,163.0 C174.5,160.0 186.5,159.5 190.0,162.0 C193.5,164.5 195.5,175.0 193.0,178.0 C190.5,181.0 178.5,182.5 175.0,180.0 C171.5,177.5 169.5,166.0 172.0,163.0Z" fill="rgb(204,204,204)"/>
<path d="M144.0,203.0 C148.7,196.5 165.3,194.8 170.0,201.0 C174.7,207.2 176.7,233.5 172.0,240.0 C167.3,246.5 146.7,246.2 142.0,240.0 C137.3,233.8 139.3,209.5 144.0,203.0Z" fill="rgb(122,122,122)"/>
<path d="M147.0,202.0 C150.5,199.0 162.7,199.0 166.0,202.0 C169.3,205.0 167.2,214.5 167.0,220.0 C166.8,225.5 167.8,232.3 165.0,235.0 C162.2,237.7 153.3,238.5 150.0,236.0 C146.7,233.5 145.5,225.7 145.0,220.0 C144.5,214.3 143.5,205.0 147.0,202.0Z" fill="rgb(64,64,64)"/>
<path d="M90.0,215.0 C92.3,211.8 103.2,211.2 106.0,214.0 C108.8,216.8 109.3,228.8 107.0,232.0 C104.7,235.2 94.8,235.8 92.0,233.0 C89.2,230.2 87.7,218.2 90.0,215.0Z" fill="rgb(82,82,82)"/>
<path d="M114.0,232.0 C116.0,229.8 124.0,229.8 126.0,232.0 C128.0,234.2 128.0,242.8 126.0,245.0 C124.0,247.2 116.0,247.2 114.0,245.0 C112.0,242.8 112.0,234.2 114.0,232.0Z" fill="rgb(89,89,89)"/>
<path d="M127.0,265.0 C129.8,260.8 141.7,259.3 145.0,263.0 C148.3,266.7 149.8,282.8 147.0,287.0 C144.2,291.2 131.3,291.7 128.0,288.0 C124.7,284.3 124.2,269.2 127.0,265.0Z" fill="rgb(64,64,64)"/>
<path d="M175.0,253.0 C176.5,251.2 182.5,251.2 184.0,253.0 C185.5,254.8 185.5,262.2 184.0,264.0 C182.5,265.8 176.5,265.8 175.0,264.0 C173.5,262.2 173.5,254.8 175.0,253.0Z" fill="rgb(76,76,76)"/>
<path d="M198.0,259.0 C199.5,255.2 206.2,255.2 208.0,259.0 C209.8,262.8 210.5,278.2 209.0,282.0 C207.5,285.8 200.8,285.8 199.0,282.0 C197.2,278.2 196.5,262.8 198.0,259.0Z" fill="rgb(76,76,76)"/>
<path d="M236.0,260.0 C239.7,255.7 254.3,255.7 258.0,260.0 C261.7,264.3 261.7,281.7 258.0,286.0 C254.3,290.3 239.7,290.3 236.0,286.0 C232.3,281.7 232.3,264.3 236.0,260.0Z" fill="rgb(122,122,122)"/>
<path d="M241.0,266.0 C243.0,262.8 251.0,262.8 253.0,266.0 C255.0,269.2 255.0,281.8 253.0,285.0 C251.0,288.2 243.0,288.2 241.0,285.0 C239.0,281.8 239.0,269.2 241.0,266.0Z" fill="rgb(64,64,64)"/>
<path d="M244.0,284.0 C246.7,279.0 259.0,279.0 262.0,284.0 C265.0,289.0 264.7,309.0 262.0,314.0 C259.3,319.0 249.0,319.0 246.0,314.0 C243.0,309.0 241.3,289.0 244.0,284.0Z" fill="rgb(64,64,64)"/>
<path d="M266.0,181.0 C271.3,177.7 290.7,180.5 300.0,180.0 C309.3,179.5 317.3,174.7 322.0,178.0 C326.7,181.3 327.3,192.7 328.0,200.0 C328.7,207.3 330.7,217.8 326.0,222.0 C321.3,226.2 307.7,224.0 300.0,225.0 C292.3,226.0 285.3,232.2 280.0,228.0 C274.7,223.8 270.3,207.8 268.0,200.0 C265.7,192.2 260.7,184.3 266.0,181.0Z" fill="rgb(128,128,128)"/>
<path d="M300.0,205.0 C303.0,199.2 318.0,199.5 322.0,205.0 C326.0,210.5 327.0,232.2 324.0,238.0 C321.0,243.8 308.0,245.5 304.0,240.0 C300.0,234.5 297.0,210.8 300.0,205.0Z" fill="rgb(153,153,153)"/>
<path d="M302.0,222.0 C304.3,218.7 315.3,220.7 318.0,224.0 C320.7,227.3 320.3,238.7 318.0,242.0 C315.7,245.3 306.7,247.3 304.0,244.0 C301.3,240.7 299.7,225.3 302.0,222.0Z" fill="rgb(168,168,168)"/>
<path d="M306.0,178.0 C309.3,176.2 320.0,176.8 326.0,176.0 C332.0,175.2 339.3,171.2 342.0,173.0 C344.7,174.8 348.0,184.7 342.0,187.0 C336.0,189.3 312.0,188.5 306.0,187.0 C300.0,185.5 302.7,179.8 306.0,178.0Z" fill="rgb(84,84,84)"/>
<path d="M310.0,165.0 C312.2,163.0 322.5,163.3 325.0,165.0 C327.5,166.7 327.2,173.0 325.0,175.0 C322.8,177.0 314.5,178.7 312.0,177.0 C309.5,175.3 307.8,167.0 310.0,165.0Z" fill="rgb(217,217,217)"/>
<path d="M334.0,188.0 C335.5,186.3 341.5,186.3 343.0,188.0 C344.5,189.7 344.5,196.3 343.0,198.0 C341.5,199.7 335.5,199.7 334.0,198.0 C332.5,196.3 332.5,189.7 334.0,188.0Z" fill="rgb(140,140,140)"/>
<path d="M277.0,196.0 C279.5,193.5 289.5,193.5 292.0,196.0 C294.5,198.5 294.5,208.5 292.0,211.0 C289.5,213.5 279.5,213.5 277.0,211.0 C274.5,208.5 274.5,198.5 277.0,196.0Z" fill="rgb(64,64,64)"/>
<path d="M312.0,186.0 C315.3,181.2 333.3,181.2 338.0,186.0 C342.7,190.8 343.3,210.2 340.0,215.0 C336.7,219.8 322.7,219.8 318.0,215.0 C313.3,210.2 308.7,190.8 312.0,186.0Z" fill="rgb(64,64,64)"/>
<path d="M321.0,219.0 C325.0,208.0 341.0,208.0 345.0,219.0 C349.0,230.0 349.0,274.0 345.0,285.0 C341.0,296.0 325.0,296.0 321.0,285.0 C317.0,274.0 317.0,230.0 321.0,219.0Z" fill="rgb(64,64,64)"/>
<path d="M300.0,190.0 C302.3,187.5 311.7,187.5 314.0,190.0 C316.3,192.5 316.3,202.5 314.0,205.0 C311.7,207.5 302.3,207.5 300.0,205.0 C297.7,202.5 297.7,192.5 300.0,190.0Z" fill="rgb(115,115,115)"/>
<path d="M104.0,299.0 C106.7,297.0 109.3,302.3 120.0,303.0 C130.7,303.7 160.0,301.0 168.0,303.0 C176.0,305.0 178.7,313.0 168.0,315.0 C157.3,317.0 114.7,317.7 104.0,315.0 C93.3,312.3 101.3,301.0 104.0,299.0Z" fill="rgb(64,64,64)"/>
</g>
<path d="M333.0,175.5 C334.0,175.3 335.2,176.6 335.0,178.0 C334.8,179.4 333.3,182.7 332.0,184.0 C330.7,185.3 328.1,186.2 327.0,186.0 C325.9,185.8 325.2,184.2 325.5,183.0 C325.8,181.8 327.8,180.2 329.0,179.0 C330.2,177.8 332.0,175.7 333.0,175.5Z" fill="#9a9a9a" opacity="0.85"/>
<path d="M330.0,184.0 C331.2,183.5 334.3,184.0 335.0,185.0 C335.7,186.0 334.8,188.5 334.0,190.0 C333.2,191.5 331.1,193.5 330.0,194.0 C328.9,194.5 327.8,194.0 327.5,193.0 C327.2,192.0 327.6,189.5 328.0,188.0 C328.4,186.5 328.8,184.5 330.0,184.0Z" fill="#e4e4e4" opacity="0.85"/>
<path d="M326.0,200.0 C327.1,198.8 329.7,199.0 330.5,199.5 C331.3,200.0 331.4,201.8 331.0,203.0 C330.6,204.2 329.2,206.4 328.0,207.0 C326.8,207.6 324.3,207.7 324.0,206.5 C323.7,205.3 324.9,201.2 326.0,200.0Z" fill="#a8a8a8" opacity="0.85"/>
<path d="M313.5,198.0 C313.9,197.6 315.6,197.6 316.0,198.0 C316.4,198.4 316.4,200.1 316.0,200.5 C315.6,200.9 313.9,200.9 313.5,200.5 C313.1,200.1 313.1,198.4 313.5,198.0Z" fill="#f0f0f0" opacity="0.85"/>
<path d="M318.0,235.0 C319.0,234.8 323.8,236.2 325.0,237.0 C326.2,237.8 326.0,239.8 325.0,240.0 C324.0,240.2 320.2,238.8 319.0,238.0 C317.8,237.2 317.0,235.2 318.0,235.0Z" fill="#c0c0c0" opacity="0.85"/>
<path d="M83.0,168.0 C83.3,167.3 84.7,167.3 85.0,168.0 C85.3,168.7 85.3,171.3 85.0,172.0 C84.7,172.7 83.3,172.7 83.0,172.0 C82.7,171.3 82.7,168.7 83.0,168.0Z" fill="#d8d8d8" opacity="0.85"/>
<path d="M87.0,174.0 C87.7,172.7 89.6,172.8 90.0,174.0 C90.4,175.2 90.2,179.7 89.5,181.0 C88.8,182.3 86.4,183.2 86.0,182.0 C85.6,180.8 86.3,175.3 87.0,174.0Z" fill="#e8e8e8" opacity="0.85"/>
<path d="M79.5,177.0 C80.0,176.2 82.2,175.4 83.0,176.0 C83.8,176.6 84.5,179.7 84.0,180.5 C83.5,181.3 80.8,181.6 80.0,181.0 C79.2,180.4 79.0,177.8 79.5,177.0Z" fill="#e0e0e0" opacity="0.85"/>
<path d="M73.5,219.5 C73.8,219.1 74.6,219.1 75.5,220.0 C76.4,220.9 78.7,223.9 79.0,225.0 C79.3,226.1 78.3,226.9 77.5,226.5 C76.7,226.1 74.7,223.7 74.0,222.5 C73.3,221.3 73.2,219.9 73.5,219.5Z" fill="#e8e8e8" opacity="0.85"/>
<path d="M151.0,224.0 C151.3,223.7 152.7,223.7 153.0,224.0 C153.3,224.3 153.3,225.7 153.0,226.0 C152.7,226.3 151.3,226.3 151.0,226.0 C150.7,225.7 150.7,224.3 151.0,224.0Z" fill="#c8c8c8" opacity="0.85"/>
</g>

<rect x="87.5" y="339.5" width="253.5" height="10" fill="url(#cbg)" stroke="#c8c8c8" stroke-width="1"/>
<g font-family="Liberation Sans, Arial, sans-serif" font-size="14.3" fill="#fff"><text x="84.8" y="368.4" text-anchor="middle" textLength="16.4" lengthAdjust="spacingAndGlyphs">0.0</text><text x="148.4" y="368.4" text-anchor="middle" textLength="16.4" lengthAdjust="spacingAndGlyphs">0.3</text><text x="212.0" y="368.4" text-anchor="middle" textLength="16.4" lengthAdjust="spacingAndGlyphs">0.6</text><text x="275.6" y="368.4" text-anchor="middle" textLength="16.4" lengthAdjust="spacingAndGlyphs">0.9</text><text x="339.2" y="368.4" text-anchor="middle" textLength="16.4" lengthAdjust="spacingAndGlyphs">1.2</text></g>
<path d="M363.5,165.6L510.6,73.5M359,251.3L505,342.8" stroke="#fff" stroke-width="4.2"/>

<rect x="518" y="72" width="330" height="274" fill="#fff"/>
<g fill="none" stroke="#555" stroke-width="1.1">
<rect x="543" y="78" width="284" height="250"/>
<path d="M543.00,328v-2.5M543.00,78v2.5M583.57,328v-2.5M583.57,78v2.5M624.14,328v-2.5M624.14,78v2.5M664.71,328v-2.5M664.71,78v2.5M705.29,328v-2.5M705.29,78v2.5M745.86,328v-2.5M745.86,78v2.5M786.43,328v-2.5M786.43,78v2.5M827.00,328v-2.5M827.00,78v2.5M543,328h2.5M827,328h-2.5M543,303h2.5M827,303h-2.5M543,278h2.5M827,278h-2.5M543,253h2.5M827,253h-2.5M543,228h2.5M827,228h-2.5M543,203h2.5M827,203h-2.5M543,178h2.5M827,178h-2.5M543,153h2.5M827,153h-2.5M543,128h2.5M827,128h-2.5M543,103h2.5M827,103h-2.5M543,78h2.5M827,78h-2.5"/>
</g>
<g font-family="Liberation Sans, Arial, sans-serif" font-size="10" fill="#000">
<text x="541.5" y="341.5" text-anchor="middle">-0.6</text><text x="582.1" y="341.5" text-anchor="middle">-0.4</text><text x="622.6" y="341.5" text-anchor="middle">-0.2</text><text x="664.7" y="341.5" text-anchor="middle">0</text><text x="705.3" y="341.5" text-anchor="middle">0.2</text><text x="745.9" y="341.5" text-anchor="middle">0.4</text><text x="786.4" y="341.5" text-anchor="middle">0.6</text><text x="827.0" y="341.5" text-anchor="middle">0.8</text>
<text x="539" y="331.5" text-anchor="end">0</text><text x="539" y="306.5" text-anchor="end">1</text><text x="539" y="281.5" text-anchor="end">2</text><text x="539" y="256.5" text-anchor="end">3</text><text x="539" y="231.5" text-anchor="end">4</text><text x="539" y="206.5" text-anchor="end">5</text><text x="539" y="181.5" text-anchor="end">6</text><text x="539" y="156.5" text-anchor="end">7</text><text x="539" y="131.5" text-anchor="end">8</text><text x="539" y="106.5" text-anchor="end">9</text>
</g>
<path d="M577.69,327.00 L577.96,326.92 L578.23,326.79 L578.50,326.63 L578.78,326.45 L579.05,326.22 L579.32,325.95 L579.59,325.63 L579.86,325.27 L580.14,324.87 L580.41,324.43 L580.68,323.95 L580.95,323.44 L581.22,322.83 L581.50,322.14 L581.77,321.36 L582.04,320.51 L582.31,319.58 L582.58,318.60 L582.86,317.55 L583.13,316.46 L583.40,315.32 L583.67,314.14 L583.94,312.83 L584.22,311.37 L584.49,309.78 L584.76,308.08 L585.03,306.30 L585.30,304.45 L585.58,302.56 L585.85,300.65 L586.12,298.67 L586.39,296.51 L586.66,294.25 L586.94,291.93 L587.21,289.62 L587.48,287.39 L587.75,285.28 L588.02,283.18 L588.30,281.05 L588.57,278.97 L588.84,276.99 L589.11,275.18 L589.38,273.58 L589.66,272.21 L589.93,270.94 L590.20,269.78 L590.47,268.80 L590.74,268.06 L591.01,267.49 L591.29,266.97 L591.56,266.55 L591.83,266.29 L592.10,266.27 L592.37,266.49 L592.65,266.88 L592.92,267.39 L593.19,267.96 L593.46,268.70 L593.73,269.74 L594.01,270.99 L594.28,272.35 L594.55,273.79 L594.82,275.45 L595.09,277.29 L595.37,279.28 L595.64,281.35 L595.91,283.46 L596.18,285.54 L596.45,287.64 L596.73,289.81 L597.00,292.04 L597.27,294.30 L597.54,296.56 L597.81,298.79 L598.09,300.99 L598.36,303.30 L598.63,305.68 L598.90,308.03 L599.17,310.27 L599.45,312.31 L599.72,314.05 L599.99,315.49 L600.26,316.88 L600.53,318.20 L600.81,319.44 L601.08,320.58 L601.35,321.59 L601.62,322.46 L601.89,323.18 L602.17,323.71 L602.44,324.11 L602.71,324.49 L602.98,324.85 L603.25,325.18 L603.53,325.48 L603.80,325.75 L604.07,325.98 L604.34,326.18 L604.61,326.33 L604.89,326.43 L605.16,326.50 L605.43,326.52 L605.70,326.55 L605.97,326.58 L606.25,326.60 L606.52,326.62 L606.79,326.64 L607.06,326.66 L607.33,326.68 L607.60,326.69 L607.88,326.70 L608.15,326.71 L608.42,326.72 L608.69,326.73 L608.96,326.74 L609.24,326.74 L609.51,326.75 L609.78,326.75 L610.05,326.75 L610.32,326.75 L610.60,326.75 L610.87,326.75 L611.14,326.75 L611.41,326.75 L611.68,326.75 L611.96,326.75 L612.23,326.75 L612.50,326.75 L612.77,326.75 L613.04,326.75 L613.32,326.75 L613.59,326.75 L613.86,326.75 L614.13,326.75 L614.40,326.75 L614.68,326.75 L614.95,326.75 L615.22,326.75 L615.49,326.75 L615.76,326.75 L616.04,326.75 L616.31,326.75 L616.58,326.75 L616.85,326.75 L617.12,326.75 L617.40,326.75 L617.67,326.75 L617.94,326.75 L618.21,326.75 L618.48,326.75 L618.76,326.75 L619.03,326.75 L619.30,326.75 L619.57,326.75 L619.84,326.75 L620.12,326.75 L620.39,326.75 L620.66,326.75 L620.93,326.75 L621.20,326.75 L621.48,326.75 L621.75,326.75 L622.02,326.75 L622.29,326.75 L622.56,326.75 L622.84,326.75 L623.11,326.75 L623.38,326.75 L623.65,326.75 L623.92,326.75 L624.19,326.75 L624.47,326.75 L624.74,326.75 L625.01,326.75 L625.28,326.75 L625.55,326.75 L625.83,326.75 L626.10,326.75 L626.37,326.75 L626.64,326.75 L626.91,326.75 L627.19,326.75 L627.46,326.75 L627.73,326.75 L628.00,326.75 L628.27,326.75 L628.55,326.75 L628.82,326.75 L629.09,326.75 L629.36,326.75 L629.63,326.75 L629.91,326.75 L630.18,326.75 L630.45,326.75 L630.72,326.75 L630.99,326.75 L631.27,326.75 L631.54,326.75 L631.81,326.75 L632.08,326.75 L632.35,326.75 L632.63,326.75 L632.90,326.75 L633.17,326.75 L633.44,326.75 L633.71,326.75 L633.99,326.75 L634.26,326.75 L634.53,326.75 L634.80,326.75 L635.07,326.75 L635.35,326.75 L635.62,326.75 L635.89,326.75 L636.16,326.75 L636.43,326.75 L636.71,326.75 L636.98,326.75 L637.25,326.75 L637.52,326.75 L637.79,326.75 L638.07,326.75 L638.34,326.75 L638.61,326.75 L638.88,326.75 L639.15,326.75 L639.43,326.75 L639.70,326.75 L639.97,326.75 L640.24,326.75 L640.51,326.75 L640.78,326.75 L641.06,326.75 L641.33,326.75 L641.60,326.75 L641.87,326.75 L642.14,326.75 L642.42,326.75 L642.69,326.75 L642.96,326.75 L643.23,326.75 L643.50,326.75 L643.78,326.75 L644.05,326.75 L644.32,326.75 L644.59,326.75 L644.86,326.75 L645.14,326.75 L645.41,326.75 L645.68,326.75 L645.95,326.75 L646.22,326.75 L646.50,326.75 L646.77,326.75 L647.04,326.75 L647.31,326.75 L647.58,326.75 L647.86,326.75 L648.13,326.75 L648.40,326.75 L648.67,326.75 L648.94,326.75 L649.22,326.75 L649.49,326.75 L649.76,326.75 L650.03,326.75 L650.30,326.75 L650.58,326.75 L650.85,326.75 L651.12,326.75 L651.39,326.75 L651.66,326.75 L651.94,326.75 L652.21,326.75 L652.48,326.75 L652.75,326.75 L653.02,326.75 L653.30,326.75 L653.57,326.75 L653.84,326.75 L654.11,326.75 L654.38,326.75 L654.66,326.75 L654.93,326.75 L655.20,326.75 L655.47,326.75 L655.74,326.75 L656.02,326.75 L656.29,326.75 L656.56,326.75 L656.83,326.75 L657.10,326.75 L657.37,326.75 L657.65,326.75 L657.92,326.75 L658.19,326.75 L658.46,326.75 L658.73,326.75 L659.01,326.75 L659.28,326.75 L659.55,326.75 L659.82,326.75 L660.09,326.75 L660.37,326.75 L660.64,326.75 L660.91,326.75 L661.18,326.75 L661.45,326.75 L661.73,326.75 L662.00,326.75 L662.27,326.75 L662.54,326.75 L662.81,326.75 L663.09,326.75 L663.36,326.75 L663.63,326.75 L663.90,326.75 L664.17,326.75 L664.45,326.75 L664.72,326.75 L664.99,326.75 L665.26,326.75 L665.53,326.74 L665.81,326.74 L666.08,326.73 L666.35,326.73 L666.62,326.72 L666.89,326.71 L667.17,326.70 L667.44,326.69 L667.71,326.68 L667.98,326.67 L668.25,326.65 L668.53,326.64 L668.80,326.62 L669.07,326.61 L669.34,326.58 L669.61,326.56 L669.89,326.52 L670.16,326.48 L670.43,326.43 L670.70,326.38 L670.97,326.31 L671.25,326.24 L671.52,326.08 L671.79,325.79 L672.06,325.39 L672.33,324.88 L672.60,324.27 L672.88,323.58 L673.15,322.81 L673.42,321.97 L673.69,321.07 L673.96,320.13 L674.24,319.14 L674.51,317.94 L674.78,316.41 L675.05,314.61 L675.32,312.55 L675.60,310.27 L675.87,307.80 L676.14,305.19 L676.41,302.45 L676.68,299.61 L676.96,296.35 L677.23,292.63 L677.50,288.55 L677.77,284.21 L678.04,279.70 L678.32,275.07 L678.59,270.09 L678.86,264.77 L679.13,259.19 L679.40,253.44 L679.68,247.38 L679.95,241.00 L680.22,234.48 L680.49,227.94 L680.76,221.22 L681.04,214.55 L681.31,208.17 L681.58,202.12 L681.85,196.26 L682.12,190.46 L682.40,184.59 L682.67,178.52 L682.94,172.10 L683.21,165.18 L683.48,158.00 L683.76,150.89 L684.03,144.14 L684.30,138.02 L684.57,132.19 L684.84,126.56 L685.12,121.20 L685.39,116.19 L685.66,111.60 L685.93,107.46 L686.20,103.43 L686.48,99.62 L686.75,96.22 L687.02,93.41 L687.29,91.36 L687.56,89.60 L687.84,88.01 L688.11,86.78 L688.38,86.09 L688.65,86.09 L688.92,86.72 L689.19,87.82 L689.47,89.26 L689.74,90.91 L690.01,92.62 L690.28,94.49 L690.55,96.86 L690.83,99.64 L691.10,102.70 L691.37,105.91 L691.64,109.14 L691.91,112.25 L692.19,115.14 L692.46,117.85 L692.73,120.46 L693.00,123.02 L693.27,125.59 L693.55,128.23 L693.82,130.98 L694.09,133.91 L694.36,137.07 L694.63,140.52 L694.91,144.58 L695.18,149.21 L695.45,154.10 L695.72,158.96 L695.99,163.49 L696.27,167.67 L696.54,171.71 L696.81,175.65 L697.08,179.56 L697.35,183.46 L697.63,187.42 L697.90,191.34 L698.17,195.22 L698.44,199.10 L698.71,203.05 L698.99,207.14 L699.26,211.43 L699.53,216.02 L699.80,220.81 L700.07,225.69 L700.35,230.51 L700.62,235.30 L700.89,240.27 L701.16,245.17 L701.43,249.71 L701.71,253.63 L701.98,257.04 L702.25,260.20 L702.52,263.14 L702.79,265.91 L703.07,268.54 L703.34,271.05 L703.61,273.49 L703.88,275.89 L704.15,278.27 L704.43,280.59 L704.70,282.85 L704.97,285.05 L705.24,287.20 L705.51,289.30 L705.78,291.34 L706.06,293.33 L706.33,295.28 L706.60,297.18 L706.87,299.04 L707.14,300.86 L707.42,302.65 L707.69,304.41 L707.96,306.15 L708.23,307.85 L708.50,309.50 L708.78,311.11 L709.05,312.65 L709.32,314.14 L709.59,315.55 L709.86,316.88 L710.14,318.15 L710.41,319.40 L710.68,320.57 L710.95,321.64 L711.22,322.57 L711.50,323.33 L711.77,323.99 L712.04,324.55 L712.31,325.01 L712.58,325.40 L712.86,325.75 L713.13,326.04 L713.40,326.25" fill="none" stroke="#000" stroke-width="3" stroke-linejoin="round" stroke-linecap="round"/>
<path d="M589.45,326.59 L589.98,326.57 L590.50,326.54 L591.02,326.52 L591.54,326.49 L592.06,326.46 L592.58,326.43 L593.10,326.39 L593.63,326.35 L594.15,326.30 L594.67,326.25 L595.19,326.19 L595.71,326.13 L596.23,326.07 L596.75,325.99 L597.27,325.91 L597.80,325.83 L598.32,325.73 L598.84,325.63 L599.36,325.52 L599.88,325.39 L600.40,325.26 L600.92,325.12 L601.45,324.96 L601.97,324.80 L602.49,324.62 L603.01,324.42 L603.53,324.22 L604.05,323.99 L604.57,323.75 L605.10,323.50 L605.62,323.22 L606.14,322.93 L606.66,322.62 L607.18,322.29 L607.70,321.93 L608.22,321.56 L608.75,321.16 L609.27,320.74 L609.79,320.29 L610.31,319.82 L610.83,319.32 L611.35,318.80 L611.87,318.24 L612.39,317.66 L612.92,317.06 L613.44,316.42 L613.96,315.75 L614.48,315.05 L615.00,314.33 L615.52,313.57 L616.04,312.78 L616.57,311.96 L617.09,311.10 L617.61,310.22 L618.13,309.31 L618.65,308.36 L619.17,307.39 L619.69,306.38 L620.22,305.34 L620.74,304.28 L621.26,303.19 L621.78,302.07 L622.30,300.92 L622.82,299.75 L623.34,298.55 L623.87,297.33 L624.39,296.09 L624.91,294.82 L625.43,293.54 L625.95,292.25 L626.47,290.93 L626.99,289.61 L627.51,288.27 L628.04,286.92 L628.56,285.56 L629.08,284.20 L629.60,282.84 L630.12,281.47 L630.64,280.11 L631.16,278.75 L631.69,277.40 L632.21,276.05 L632.73,274.72 L633.25,273.40 L633.77,272.09 L634.29,270.80 L634.81,269.53 L635.34,268.29 L635.86,267.07 L636.38,265.87 L636.90,264.70 L637.42,263.57 L637.94,262.47 L638.46,261.40 L638.99,260.36 L639.51,259.37 L640.03,258.41 L640.55,257.50 L641.07,256.63 L641.59,255.80 L642.11,255.01 L642.63,254.27 L643.16,253.57 L643.68,252.92 L644.20,252.32 L644.72,251.76 L645.24,251.25 L645.76,250.79 L646.28,250.37 L646.81,250.00 L647.33,249.67 L647.85,249.39 L648.37,249.15 L648.89,248.95 L649.41,248.79 L649.93,248.67 L650.46,248.58 L650.98,248.53 L651.50,248.50 L652.02,248.50 L652.54,248.51 L653.06,248.55 L653.58,248.62 L654.11,248.72 L654.63,248.86 L655.15,249.04 L655.67,249.26 L656.19,249.52 L656.71,249.82 L657.23,250.17 L657.75,250.57 L658.28,251.01 L658.80,251.49 L659.32,252.02 L659.84,252.60 L660.36,253.23 L660.88,253.90 L661.40,254.62 L661.93,255.38 L662.45,256.19 L662.97,257.04 L663.49,257.94 L664.01,258.87 L664.53,259.84 L665.05,260.86 L665.58,261.91 L666.10,262.99 L666.62,264.11 L667.14,265.26 L667.66,266.44 L668.18,267.65 L668.70,268.89 L669.23,270.14 L669.75,271.42 L670.27,272.72 L670.79,274.03 L671.31,275.36 L671.83,276.70 L672.35,278.05 L672.87,279.41 L673.40,280.77 L673.92,282.13 L674.44,283.50 L674.96,284.86 L675.48,286.22 L676.00,287.57 L676.52,288.92 L677.05,290.25 L677.57,291.57 L678.09,292.87 L678.61,294.16 L679.13,295.44 L679.65,296.69 L680.17,297.92 L680.70,299.13 L681.22,300.32 L681.74,301.48 L682.26,302.61 L682.78,303.72 L683.30,304.80 L683.82,305.85 L684.35,306.87 L684.87,307.86 L685.39,308.82 L685.91,309.75 L686.43,310.65 L686.95,311.52 L687.47,312.36 L687.99,313.16 L688.52,313.94 L689.04,314.68 L689.56,315.39 L690.08,316.07 L690.60,316.73 L691.12,317.35 L691.64,317.94 L692.17,318.51 L692.69,319.04 L693.21,319.55 L693.73,320.04 L694.25,320.49 L694.77,320.93 L695.29,321.34 L695.82,321.72 L696.34,322.08 L696.86,322.42 L697.38,322.74 L697.90,323.04 L698.42,323.32 L698.94,323.58 L699.47,323.82 L699.99,324.04 L700.51,324.25 L701.03,324.44 L701.55,324.62 L702.07,324.78 L702.59,324.93 L703.11,325.07 L703.64,325.19 L704.16,325.30 L704.68,325.40 L705.20,325.48 L705.72,325.56 L706.24,325.63 L706.76,325.68 L707.29,325.73 L707.81,325.77 L708.33,325.80 L708.85,325.82 L709.37,325.83 L709.89,325.83 L710.41,325.82 L710.94,325.81 L711.46,325.79 L711.98,325.76 L712.50,325.72 L713.02,325.67 L713.54,325.62 L714.06,325.56 L714.59,325.49 L715.11,325.41 L715.63,325.32 L716.15,325.22 L716.67,325.12 L717.19,325.01 L717.71,324.89 L718.23,324.76 L718.76,324.62 L719.28,324.47 L719.80,324.32 L720.32,324.15 L720.84,323.98 L721.36,323.80 L721.88,323.61 L722.41,323.41 L722.93,323.20 L723.45,322.98 L723.97,322.75 L724.49,322.52 L725.01,322.27 L725.53,322.02 L726.06,321.76 L726.58,321.50 L727.10,321.22 L727.62,320.94 L728.14,320.65 L728.66,320.36 L729.18,320.06 L729.71,319.76 L730.23,319.45 L730.75,319.13 L731.27,318.82 L731.79,318.50 L732.31,318.18 L732.83,317.86 L733.35,317.54 L733.88,317.21 L734.40,316.89 L734.92,316.57 L735.44,316.26 L735.96,315.94 L736.48,315.63 L737.00,315.33 L737.53,315.03 L738.05,314.74 L738.57,314.45 L739.09,314.17 L739.61,313.90 L740.13,313.64 L740.65,313.39 L741.18,313.15 L741.70,312.92 L742.22,312.70 L742.74,312.50 L743.26,312.30 L743.78,312.12 L744.30,311.96 L744.83,311.80 L745.35,311.66 L745.87,311.54 L746.39,311.42 L746.91,311.33 L747.43,311.24 L747.95,311.17 L748.47,311.11 L749.00,311.07 L749.52,311.03 L750.04,311.01 L750.56,311.00 L751.08,311.00 L751.60,311.01 L752.12,311.02 L752.65,311.05 L753.17,311.09 L753.69,311.14 L754.21,311.21 L754.73,311.29 L755.25,311.38 L755.77,311.49 L756.30,311.61 L756.82,311.74 L757.34,311.89 L757.86,312.05 L758.38,312.23 L758.90,312.42 L759.42,312.62 L759.95,312.83 L760.47,313.05 L760.99,313.29 L761.51,313.54 L762.03,313.79 L762.55,314.06 L763.07,314.33 L763.59,314.62 L764.12,314.91 L764.64,315.20 L765.16,315.51 L765.68,315.81 L766.20,316.13 L766.72,316.44 L767.24,316.76 L767.77,317.08 L768.29,317.40 L768.81,317.73 L769.33,318.05 L769.85,318.37 L770.37,318.69 L770.89,319.01 L771.42,319.32 L771.94,319.63 L772.46,319.94 L772.98,320.24 L773.50,320.54 L774.02,320.83 L774.54,321.11 L775.07,321.39 L775.59,321.66 L776.11,321.92 L776.63,322.18 L777.15,322.43 L777.67,322.67 L778.19,322.90 L778.71,323.13 L779.24,323.34 L779.76,323.55 L780.28,323.75 L780.80,323.94 L781.32,324.12 L781.84,324.29 L782.36,324.46 L782.89,324.62 L783.41,324.76 L783.93,324.91 L784.45,325.04 L784.97,325.17 L785.49,325.28 L786.01,325.40 L786.54,325.50 L787.06,325.60 L787.58,325.69 L788.10,325.78 L788.62,325.86 L789.14,325.94 L789.66,326.01 L790.18,326.07 L790.71,326.13 L791.23,326.19 L791.75,326.24 L792.27,326.28 L792.79,326.33 L793.31,326.37 L793.83,326.41 L794.36,326.44 L794.88,326.47 L795.40,326.50 L795.92,326.52 L796.44,326.55 L796.96,326.57 L797.48,326.59" fill="none" stroke="#f00" stroke-width="3" stroke-linejoin="round" stroke-linecap="round"/>
<rect x="710.5" y="84.5" width="110" height="30" fill="#fff" stroke="#555" stroke-width="1"/>
<path d="M719,93.2H762" stroke="#000" stroke-width="3"/>
<path d="M719,106.2H762" stroke="#f00" stroke-width="3"/>
<g font-family="Liberation Sans, Arial, sans-serif" font-size="11" fill="#000">
<text x="767" y="97" textLength="47.5" lengthAdjust="spacingAndGlyphs">immediate</text>
<text x="767" y="110" textLength="24" lengthAdjust="spacingAndGlyphs">delay</text>
</g>

</svg>
</body></html>
